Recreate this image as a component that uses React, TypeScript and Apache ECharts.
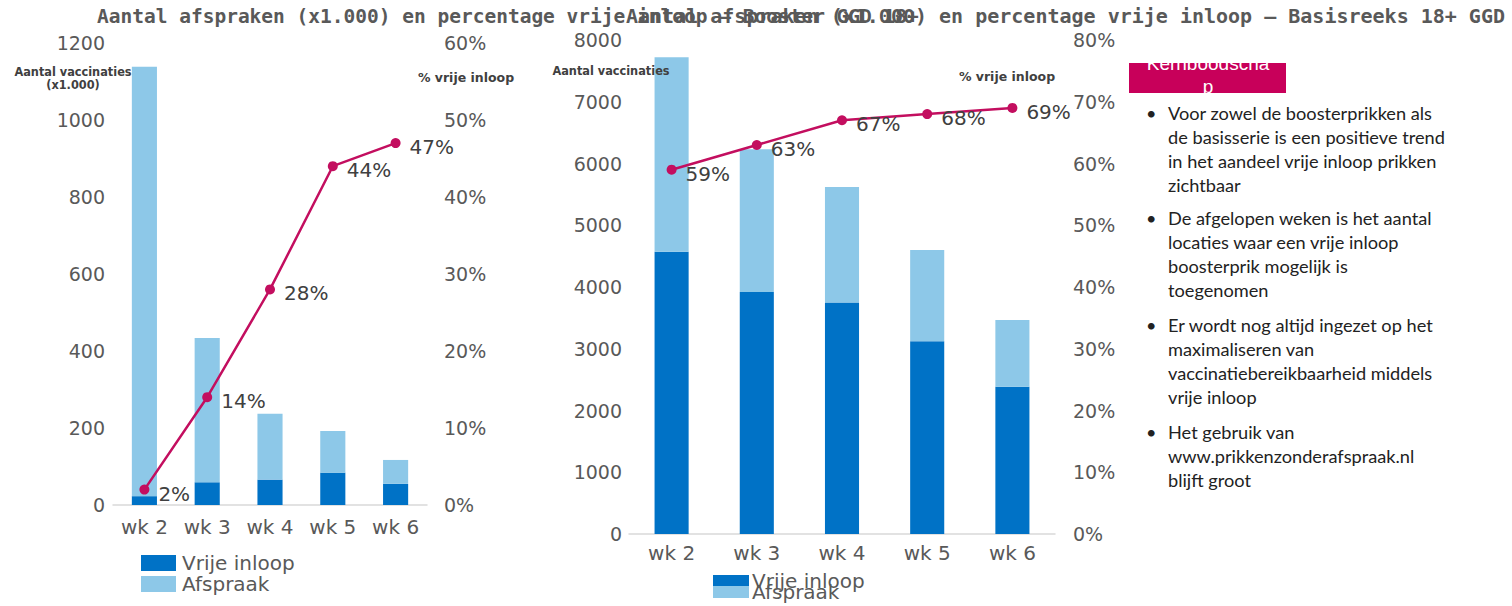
import React, { useEffect, useRef } from "react";
import * as echarts from "echarts";

const weeks = ["wk 2", "wk 3", "wk 4", "wk 5", "wk 6"];
const boosterVrije = [23, 59, 66, 84, 55];
const boosterAfspraak = [1115, 375, 171, 108, 62];
const boosterPct = [2, 14, 28, 44, 47];
const basisVrije = [4570, 3920, 3750, 3120, 2385];
const basisAfspraak = [3150, 2310, 1870, 1480, 1080];
const basisPct = [59, 63, 67, 68, 69];
const leftTicksMax = 1200;
const rightTicksMax = 8000;

const titleLeft = "Aantal afspraken (x1.000) en percentage vrije inloop – Booster GGD 18+";
const titleRight = "Aantal afspraken (x1.000) en percentage vrije inloop – Basisreeks 18+ GGD";

const bullets = [
  ["Voor zowel de boosterprikken als", "de basisserie is een positieve trend", "in het aandeel vrije inloop prikken", "zichtbaar"],
  ["De afgelopen weken is het aantal", "locaties waar een vrije inloop", "boosterprik mogelijk is", "toegenomen"],
  ["Er wordt nog altijd ingezet op het", "maximaliseren van", "vaccinatiebereikbaarheid middels", "vrije inloop"],
  ["Het gebruik van", "www.prikkenzonderafspraak.nl", "blijft groot"],
];

const DARK = "#0072C6";
const LIGHT = "#8DC8E8";
const MAGENTA = "#C30E5F";
const GREY = "#595959";

export default function App() {
  const ref = useRef<HTMLDivElement>(null);
  useEffect(() => {
    const chart = echarts.init(ref.current!, null, { renderer: "svg" });
    const axisLabelBase = { fontFamily: "DejaVu Sans", fontSize: 19, color: GREY };
    const xAxisBase = {
      type: "category" as const,
      data: weeks,
      axisLine: { lineStyle: { color: "#D9D9D9", width: 1.5 } },
      axisTick: { show: false },
      axisLabel: { ...axisLabelBase, fontSize: 20, margin: 12 },
    };
    const yBase = {
      type: "value" as const,
      splitLine: { show: false },
      axisLine: { show: false },
      axisTick: { show: false },
    };
    const plain = (v: number) => String(v);
    const pct = (v: number) => v + "%";
    const lineLabel = {
      show: true,
      position: "right" as const,
      distance: 9,
      offset: [0, 4],
      formatter: "{c}%",
      fontFamily: "DejaVu Sans",
      fontSize: 20,
      color: "#404040",
    };
    const bulletGraphics: any[] = [];
    const paraTops = [100.5, 206, 313, 420];
    bullets.forEach((lines, i) => {
      bulletGraphics.push({
        type: "text",
        x: 1146,
        y: paraTops[i],
        style: { text: "•", font: "18px Lato", fill: "#222", lineHeight: 24, verticalAlign: "top" },
      });
      bulletGraphics.push({
        type: "text",
        x: 1168,
        y: paraTops[i],
        style: { text: lines.join("\n"), font: "18.2px Lato", fill: "#222", lineHeight: 24, verticalAlign: "top" },
      });
    });
    const option: any = {
      animation: false,
      backgroundColor: "#fff",
      title: [
        { text: titleLeft, left: 97, top: 6, padding: 0, textStyle: { fontFamily: "DejaVu Sans Mono", fontWeight: "bold", fontSize: 19.5, color: GREY } },
        { text: titleRight, left: 626, top: 6, padding: 0, textStyle: { fontFamily: "DejaVu Sans Mono", fontWeight: "bold", fontSize: 20, color: GREY } },
      ],
      legend: [
        {
          data: ["Vrije inloop", "Afspraak"],
          orient: "vertical",
          left: 141,
          top: 553,
          height: 200,
          padding: 0,
          itemWidth: 35,
          itemHeight: 16,
          itemGap: 1,
          icon: "rect",
          selectedMode: false,
          textStyle: { fontFamily: "DejaVu Sans", fontSize: 20, color: GREY, lineHeight: 16, padding: [0, 0, 0, 1] },
        },
        {
          data: ["Vrije inloop", "Afspraak"],
          orient: "vertical",
          left: 713,
          top: 571,
          height: 200,
          padding: 0,
          itemWidth: 36,
          itemHeight: 12,
          itemGap: -9,
          icon: "rect",
          selectedMode: false,
          textStyle: { fontFamily: "DejaVu Sans", fontSize: 20, color: GREY, lineHeight: 11, padding: [0, 0, 0, -2] },
        },
      ],
      grid: [
        { left: 113, width: 314, top: 43, height: 462 },
        { left: 629, width: 426, top: 40, height: 494 },
      ],
      xAxis: [
        { ...xAxisBase, gridIndex: 0 },
        { ...xAxisBase, gridIndex: 1, axisLabel: { ...xAxisBase.axisLabel, margin: 9 } },
      ],
      yAxis: [
        { ...yBase, gridIndex: 0, min: 0, max: leftTicksMax, interval: 200, position: "left", axisLabel: { ...axisLabelBase, align: "right", margin: 8, formatter: plain } },
        { ...yBase, gridIndex: 0, min: 0, max: 60, interval: 10, position: "right", axisLabel: { ...axisLabelBase, align: "left", margin: 17, formatter: pct } },
        { ...yBase, gridIndex: 1, min: 0, max: rightTicksMax, interval: 1000, position: "left", axisLabel: { ...axisLabelBase, align: "right", margin: 7, formatter: plain } },
        { ...yBase, gridIndex: 1, min: 0, max: 80, interval: 10, position: "right", axisLabel: { ...axisLabelBase, align: "left", margin: 18, formatter: pct } },
      ],
      series: [
        { name: "Vrije inloop", type: "bar", stack: "b", xAxisIndex: 0, yAxisIndex: 0, data: boosterVrije, barWidth: "40%", itemStyle: { color: DARK } },
        { name: "Afspraak", type: "bar", stack: "b", xAxisIndex: 0, yAxisIndex: 0, data: boosterAfspraak, barWidth: "40%", itemStyle: { color: LIGHT } },
        {
          name: "% vrije inloop booster", type: "line", xAxisIndex: 0, yAxisIndex: 1, data: boosterPct, z: 5,
          symbol: "circle", symbolSize: 10, lineStyle: { color: MAGENTA, width: 2.5 }, itemStyle: { color: MAGENTA }, label: lineLabel,
        },
        { name: "Vrije inloop", type: "bar", stack: "r", xAxisIndex: 1, yAxisIndex: 2, data: basisVrije, barWidth: "40%", itemStyle: { color: DARK } },
        { name: "Afspraak", type: "bar", stack: "r", xAxisIndex: 1, yAxisIndex: 2, data: basisAfspraak, barWidth: "40%", itemStyle: { color: LIGHT } },
        {
          name: "% vrije inloop basis", type: "line", xAxisIndex: 1, yAxisIndex: 3, data: basisPct, z: 5,
          symbol: "circle", symbolSize: 10, lineStyle: { color: MAGENTA, width: 2.5 }, itemStyle: { color: MAGENTA }, label: lineLabel,
        },
      ],
      graphic: [
        { type: "text", x: 73, y: 71, z: 10, style: { text: "Aantal vaccinaties", font: "bold 12.6px 'DejaVu Sans Condensed'", fill: "#404040", align: "center", verticalAlign: "middle" } },
        { type: "text", x: 73, y: 84, z: 10, style: { text: "(x1.000)", font: "bold 12.6px 'DejaVu Sans Condensed'", fill: "#404040", align: "center", verticalAlign: "middle" } },
        { type: "text", x: 466, y: 77, z: 10, style: { text: "% vrije inloop", font: "bold 12.5px 'DejaVu Sans'", fill: "#404040", align: "center", verticalAlign: "middle" } },
        { type: "text", x: 611, y: 70, z: 10, style: { text: "Aantal vaccinaties", font: "bold 12.6px 'DejaVu Sans Condensed'", fill: "#404040", align: "center", verticalAlign: "middle" } },
        { type: "text", x: 1007, y: 76, z: 10, style: { text: "% vrije inloop", font: "bold 12.5px 'DejaVu Sans'", fill: "#404040", align: "center", verticalAlign: "middle" } },
        { type: "rect", z: 10, shape: { x: 1129, y: 63, width: 157, height: 30 }, style: { fill: "#C8005A" } },
        { type: "text", x: 1208, y: 52, z: 11, style: { text: "Kernboodscha\np", font: "19px 'Liberation Sans'", fill: "#fff", align: "center", verticalAlign: "top", lineHeight: 23 } },
        { type: "rect", z: 12, shape: { x: 1125, y: 44, width: 165, height: 19 }, style: { fill: "#fff" } },
        { type: "rect", z: 12, shape: { x: 1125, y: 93, width: 165, height: 6 }, style: { fill: "#fff" } },
        ...bulletGraphics,
      ],
    };
    chart.setOption(option);
    return () => chart.dispose();
  }, []);
  return <div ref={ref} style={{ position: "absolute", left: 0, top: 0, width: 1512, height: 606 }} />;
}
